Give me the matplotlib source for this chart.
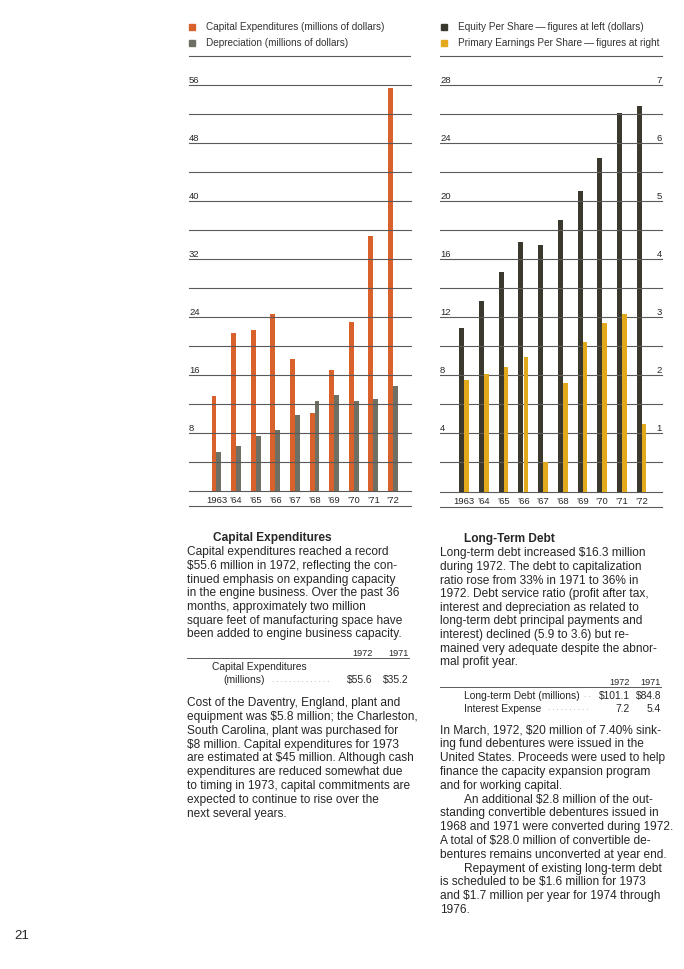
import matplotlib
matplotlib.use('Agg')
import matplotlib.pyplot as plt
import matplotlib.transforms as mtransforms

# chart data
years = ['1963', '\u201964', '\u201965', '\u201966', '\u201967', '\u201968', '\u201969', '\u201970', '\u201971', '\u201972']
capex = [13.1, 21.8, 22.3, 24.5, 18.2, 10.8, 16.7, 23.4, 35.2, 55.6]
deprec = [5.4, 6.3, 7.6, 8.4, 10.5, 12.5, 13.3, 12.5, 12.7, 14.5]
equity = [11.3, 13.1, 15.1, 17.2, 17.0, 18.7, 20.7, 23.0, 26.1, 26.6]
earnings = [1.93, 2.02, 2.15, 2.31, 0.50, 1.87, 2.57, 2.91, 3.06, 1.16]

left_ticks = [8, 16, 24, 32, 40, 48, 56]
right_ticks_l = [4, 8, 12, 16, 20, 24, 28]
right_ticks_r = [1, 2, 3, 4, 5, 6, 7]

ORANGE = '#d8612c'
GREY = '#6f6f63'
DARK = '#3b382e'
YELLOW = '#e2a91c'
INK = '#262626'
LINE = '#5a5a5a'

W, H = 684, 970
plt.rcParams['font.family'] = ['Liberation Sans', 'DejaVu Sans']

fig = plt.figure(figsize=(W / 100, H / 100), dpi=100)
fig.patch.set_facecolor('white')


def px(x, y):
    return x / W, 1 - y / H


def ftext(x, y, s, **kw):
    kw.setdefault('color', INK)
    kw.setdefault('va', 'center')
    fig.text(*px(x, y), s, **kw)


def hrule(x0, x1, y, lw=0.8, color=LINE):
    fig.add_artist(plt.Line2D([x0 / W, x1 / W], [1 - y / H, 1 - y / H],
                              color=color, lw=lw, transform=fig.transFigure))


def make_axes(x0, x1, ytop, ybot, ymax, xl, xr, step):
    ax = fig.add_axes([x0 / W, 1 - ybot / H, (x1 - x0) / W, (ybot - ytop) / H])
    ax.set_xlim(xl, xr)
    ax.set_ylim(0, ymax)
    ax.axis('off')
    v = 0
    while v <= ymax + 1e-9:
        ax.axhline(v, color=LINE, lw=0.8, zorder=3, clip_on=False)
        v += step
    return ax


xpos = list(range(len(years)))
bw = 0.25
TICK = 6.8

# ---- left chart: capital expenditures / depreciation
ax1 = make_axes(189, 411, 86.3, 492.3, 56, -1.40, 9.92, 4)
ax1.bar([x - bw / 2 for x in xpos], capex, width=bw, color=ORANGE, zorder=2)
ax1.bar([x + bw / 2 for x in xpos], deprec, width=bw, color=GREY, zorder=2)
tr1 = mtransforms.blended_transform_factory(ax1.transAxes, ax1.transData)
for t in left_ticks:
    ax1.text(0, t + 0.5, str(t), transform=tr1, ha='left', va='baseline',
             fontsize=TICK, color=INK)
for x, lab in zip(xpos, years):
    ax1.text(x, -1.2, lab, ha='center', va='center', fontsize=TICK, color=INK,
             clip_on=False)

# ---- right chart: equity / earnings per share
ax2 = make_axes(440, 662, 86.3, 492.5, 28, -1.23, 10.03, 2)
ax3 = ax2.twinx()
ax3.set_ylim(0, 7)
ax3.axis('off')
ax2.bar([x - bw / 2 for x in xpos], equity, width=bw, color=DARK, zorder=2)
ax3.bar([x + bw / 2 for x in xpos], earnings, width=bw * 0.95, color=YELLOW, zorder=2)
tr2 = mtransforms.blended_transform_factory(ax2.transAxes, ax2.transData)
for t in right_ticks_l:
    ax2.text(0, t + 0.25, str(t), transform=tr2, ha='left', va='baseline',
             fontsize=TICK, color=INK)
for t, r in zip(right_ticks_l, right_ticks_r):
    ax2.text(1, t + 0.25, str(r), transform=tr2, ha='right', va='baseline',
             fontsize=TICK, color=INK)
for x, lab in zip(xpos, years):
    ax2.text(x, -0.6, lab, ha='center', va='center', fontsize=TICK, color=INK,
             clip_on=False)

# rules under the year labels
hrule(189, 411, 507)
hrule(440, 662, 508)

# ---- legends
def legend_item(x, y, color, label):
    fig.add_artist(plt.Rectangle(px(x - 3, y + 3), 6 / W, 6 / H, color=color,
                                 transform=fig.transFigure))
    ftext(x + 14, y, label, fontsize=7.2, color='#333333')


legend_item(192, 27.5, ORANGE, 'Capital Expenditures (millions of dollars)')
legend_item(192, 43.5, GREY, 'Depreciation (millions of dollars)')
legend_item(444, 27.5, DARK, 'Equity Per Share\u2009\u2014\u2009figures at left (dollars)')
legend_item(444, 43.5, YELLOW, 'Primary Earnings Per Share\u2009\u2014\u2009figures at right')
hrule(189, 410, 56.5)
hrule(440, 662, 57)

# ---- text columns
BODY = 8.6


def para(x, y0, lines, step, indent=24):
    for i, s in enumerate(lines):
        xx = x
        if s.startswith('\t'):
            xx = x + indent
            s = s[1:]
        ftext(xx, y0 + i * step, s, fontsize=BODY)


ftext(213, 538.5, 'Capital Expenditures', fontsize=BODY, fontweight='bold')
para(187, 552.3, [
    'Capital expenditures reached a record',
    '$55.6 million in 1972, reflecting the con-',
    'tinued emphasis on expanding capacity',
    'in the engine business. Over the past 36',
    'months, approximately two million',
    'square feet of manufacturing space have',
    'been added to engine business capacity.',
], 13.67)

hrule(187, 409, 659, lw=0.7)
ftext(373, 653.3, '1972', fontsize=6.6, ha='right')
ftext(409, 653.3, '1971', fontsize=6.6, ha='right')
ftext(212, 667, 'Capital Expenditures', fontsize=7.4)
ftext(223, 680.3, '(millions)', fontsize=7.4)
ftext(272, 680.3, ' '.join('.' * 14), fontsize=5.5, color='#9a9a9a')
ftext(373, 680.3, '$55.6', fontsize=7.4, ha='right')
ftext(409, 680.3, '$35.2', fontsize=7.4, ha='right')

para(187, 703.3, [
    'Cost of the Daventry, England, plant and',
    'equipment was $5.8 million; the Charleston,',
    'South Carolina, plant was purchased for',
    '$8 million. Capital expenditures for 1973',
    'are estimated at $45 million. Although cash',
    'expenditures are reduced somewhat due',
    'to timing in 1973, capital commitments are',
    'expected to continue to rise over the',
    'next several years.',
], 13.8)

ftext(464, 539, 'Long-Term Debt', fontsize=BODY, fontweight='bold')
para(440, 553.3, [
    'Long-term debt increased $16.3 million',
    'during 1972. The debt to capitalization',
    'ratio rose from 33% in 1971 to 36% in',
    '1972. Debt service ratio (profit after tax,',
    'interest and depreciation as related to',
    'long-term debt principal payments and',
    'interest) declined (5.9 to 3.6) but re-',
    'mained very adequate despite the abnor-',
    'mal profit year.',
], 13.63)

hrule(440, 661, 687.7, lw=0.7)
ftext(630, 682.3, '1972', fontsize=6.6, ha='right')
ftext(661, 682.3, '1971', fontsize=6.6, ha='right')
ftext(464, 695.7, 'Long-term Debt (millions)', fontsize=7.4)
ftext(584, 695.7, '. .', fontsize=5.5, color='#9a9a9a')
ftext(630, 695.7, '$101.1', fontsize=7.4, ha='right')
ftext(661, 695.7, '$84.8', fontsize=7.4, ha='right')
ftext(464, 708.7, 'Interest Expense', fontsize=7.4)
ftext(548, 708.7, ' '.join('.' * 10), fontsize=5.5, color='#9a9a9a')
ftext(630, 708.7, '7.2', fontsize=7.4, ha='right')
ftext(661, 708.7, '5.4', fontsize=7.4, ha='right')

para(440, 730.7, [
    'In March, 1972, $20 million of 7.40% sink-',
    'ing fund debentures were issued in the',
    'United States. Proceeds were used to help',
    'finance the capacity expansion program',
    'and for working capital.',
    '\tAn additional $2.8 million of the out-',
    'standing convertible debentures issued in',
    '1968 and 1971 were converted during 1972.',
    'A total of $28.0 million of convertible de-',
    'bentures remains unconverted at year end.',
    '\tRepayment of existing long-term debt',
    'is scheduled to be $1.6 million for 1973',
    'and $1.7 million per year for 1974 through',
    '1976.',
], 13.79)

ftext(14, 936, '21', fontsize=9.5)

fig.savefig('out.png', dpi=100, facecolor='white')
